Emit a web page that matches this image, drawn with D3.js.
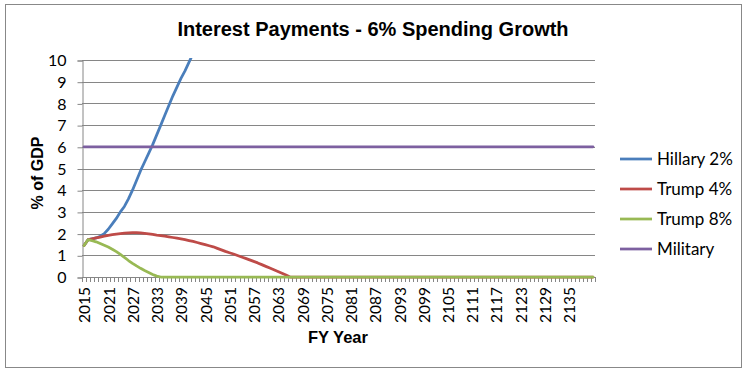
<!DOCTYPE html>
<html>
<head>
<meta charset="utf-8">
<script src="https://cdn.jsdelivr.net/npm/d3@7"></script>
<style>
  body { margin: 0; background: #fff; }
  svg { display: block; }
</style>
</head>
<body>
<div id="chart"></div>
<script>
const years = d3.range(2015, 2142); // FY categories 2015..2141

const yTicks = [0, 1, 2, 3, 4, 5, 6, 7, 8, 9, 10];

const hillary = [
  1.45, 1.72, 1.76, 1.80, 1.88, 2.00, 2.20, 2.45, 2.70, 3.00,
  3.25, 3.60, 4.00, 4.45, 4.90, 5.30, 5.70, 6.10, 6.55, 7.00,
  7.45, 7.90, 8.35, 8.75, 9.15, 9.50, 9.90, 10.30, 10.70
];

const trump4 = [
  1.45, 1.72, 1.76, 1.80, 1.84, 1.88, 1.92, 1.95, 1.98, 2.00,
  2.02, 2.03, 2.04, 2.04, 2.03, 2.01, 1.99, 1.96, 1.93, 1.91,
  1.88, 1.85, 1.82, 1.79, 1.76, 1.72, 1.68, 1.64, 1.59, 1.54,
  1.49, 1.44, 1.39, 1.32, 1.25, 1.18, 1.12, 1.06, 0.99, 0.92,
  0.86, 0.79, 0.72, 0.65, 0.57, 0.49, 0.41, 0.33, 0.25, 0.17,
  0.09, 0,
  0, 0, 0, 0, 0, 0, 0, 0, 0, 0,
  0, 0, 0, 0, 0, 0, 0, 0, 0, 0,
  0, 0, 0, 0, 0, 0, 0, 0, 0, 0,
  0, 0, 0, 0, 0, 0, 0, 0, 0, 0,
  0, 0, 0, 0, 0, 0, 0, 0, 0, 0,
  0, 0, 0, 0, 0, 0, 0, 0, 0, 0,
  0, 0, 0, 0, 0, 0, 0, 0, 0, 0,
  0, 0, 0, 0, 0
];

const trump8 = [
  1.45, 1.72, 1.67, 1.62, 1.54, 1.46, 1.38, 1.28, 1.17, 1.04,
  0.90, 0.76, 0.63, 0.51, 0.40, 0.30, 0.21, 0.12, 0.04,
  0, 0, 0, 0, 0, 0, 0, 0, 0, 0,
  0, 0, 0, 0, 0, 0, 0, 0, 0, 0,
  0, 0, 0, 0, 0, 0, 0, 0, 0, 0,
  0, 0, 0, 0, 0, 0, 0, 0, 0, 0,
  0, 0, 0, 0, 0, 0, 0, 0, 0, 0,
  0, 0, 0, 0, 0, 0, 0, 0, 0, 0,
  0, 0, 0, 0, 0, 0, 0, 0, 0, 0,
  0, 0, 0, 0, 0, 0, 0, 0, 0, 0,
  0, 0, 0, 0, 0, 0, 0, 0, 0, 0,
  0, 0, 0, 0, 0, 0, 0, 0, 0, 0,
  0, 0, 0, 0, 0, 0, 0, 0
];

const military = [
  6, 6, 6, 6, 6, 6, 6, 6, 6, 6,
  6, 6, 6, 6, 6, 6, 6, 6, 6, 6,
  6, 6, 6, 6, 6, 6, 6, 6, 6, 6,
  6, 6, 6, 6, 6, 6, 6, 6, 6, 6,
  6, 6, 6, 6, 6, 6, 6, 6, 6, 6,
  6, 6, 6, 6, 6, 6, 6, 6, 6, 6,
  6, 6, 6, 6, 6, 6, 6, 6, 6, 6,
  6, 6, 6, 6, 6, 6, 6, 6, 6, 6,
  6, 6, 6, 6, 6, 6, 6, 6, 6, 6,
  6, 6, 6, 6, 6, 6, 6, 6, 6, 6,
  6, 6, 6, 6, 6, 6, 6, 6, 6, 6,
  6, 6, 6, 6, 6, 6, 6, 6, 6, 6,
  6, 6, 6, 6, 6, 6, 6
];

const seriesNames = ['Hillary 2%', 'Trump 4%', 'Trump 8%', 'Military'];
const seriesColors = ['#4a7ebb', '#be4b48', '#98b954', '#7d60a0'];
const seriesValues = [hillary, trump4, trump8, military];

const width = 751;
const height = 375;
const plot = { left: 82, right: 595, top: 60, bottom: 277 };

const svg = d3.select('#chart')
  .append('svg')
  .attr('width', width)
  .attr('height', height);

// outer chart border
svg.append('rect')
  .attr('x', 5.5).attr('y', 4.5)
  .attr('width', 736).attr('height', 363)
  .attr('fill', '#fff')
  .attr('stroke', '#888')
  .attr('stroke-width', 1);

const x = d3.scaleBand()
  .domain(years)
  .range([plot.left, plot.right])
  .padding(0);

const y = d3.scaleLinear()
  .domain([0, 10])
  .range([plot.bottom, plot.top]);

// gridlines
svg.append('g')
  .selectAll('line')
  .data(yTicks.filter(d => d > 0))
  .enter()
  .append('line')
  .attr('x1', plot.left)
  .attr('x2', plot.right)
  .attr('y1', d => Math.round(y(d)) + 0.5)
  .attr('y2', d => Math.round(y(d)) + 0.5)
  .attr('stroke', '#868686')
  .attr('stroke-width', 1);

// y axis
const yAxis = svg.append('g')
  .attr('transform', `translate(${plot.left + 0.5},0.5)`)
  .call(d3.axisLeft(y).tickValues(yTicks).tickSize(5).tickPadding(11));
yAxis.select('.domain').attr('stroke', '#868686');
yAxis.selectAll('.tick line').attr('stroke', '#868686');
yAxis.selectAll('.tick text')
  .attr('font-family', 'Lato, "Open Sans", sans-serif')
  .attr('font-size', 16)
  .attr('fill', '#000');

// x axis line and tick marks at category boundaries
const xAxisG = svg.append('g');
xAxisG.append('line')
  .attr('x1', plot.left).attr('x2', plot.right)
  .attr('y1', plot.bottom + 0.5).attr('y2', plot.bottom + 0.5)
  .attr('stroke', '#868686');
const boundaries = years.map(d => x(d)).concat([x(years[years.length - 1]) + x.bandwidth()]);
xAxisG.selectAll('.xtick')
  .data(boundaries)
  .enter()
  .append('line')
  .attr('class', 'xtick')
  .attr('x1', d => Math.round(d) + 0.5)
  .attr('x2', d => Math.round(d) + 0.5)
  .attr('y1', plot.bottom)
  .attr('y2', plot.bottom + 5)
  .attr('stroke', '#868686');

const labelYears = years.filter((d, i) => i % 6 === 0 && d <= 2135);
xAxisG.selectAll('.xlabel')
  .data(labelYears)
  .enter()
  .append('text')
  .attr('class', 'xlabel')
  .attr('transform', d => `translate(${x(d) + x.bandwidth() / 2 + 1},${plot.bottom + 10}) rotate(-90)`)
  .attr('text-anchor', 'end')
  .attr('dy', '0.35em')
  .attr('font-family', 'Lato, "Open Sans", sans-serif')
  .attr('font-size', 15.5)
  .attr('fill', '#000')
  .text(d => d);

// clip lines to plot area
svg.append('clipPath')
  .attr('id', 'plot-clip')
  .append('rect')
  .attr('x', plot.left).attr('y', plot.top - 2)
  .attr('width', plot.right - plot.left + 2)
  .attr('height', plot.bottom - plot.top + 4);

const line = d3.line()
  .x((d, i) => x(years[i]) + x.bandwidth() / 2)
  .y(d => y(d));

svg.append('g')
  .attr('clip-path', 'url(#plot-clip)')
  .selectAll('path')
  .data(seriesValues)
  .enter()
  .append('path')
  .attr('d', d => line(d))
  .attr('fill', 'none')
  .attr('stroke', (d, i) => seriesColors[i])
  .attr('stroke-width', 2.75)
  .attr('stroke-linejoin', 'round')
  .attr('stroke-linecap', 'round');

// title
svg.append('text')
  .attr('x', 373)
  .attr('y', 36)
  .attr('text-anchor', 'middle')
  .attr('font-family', '"Liberation Sans", Arial, sans-serif')
  .attr('font-weight', 'bold')
  .attr('font-size', 20)
  .attr('fill', '#000')
  .text('Interest Payments - 6% Spending Growth');

// axis titles
svg.append('text')
  .attr('transform', 'translate(43,173) rotate(-90)')
  .attr('text-anchor', 'middle')
  .attr('font-family', '"Liberation Sans", Arial, sans-serif')
  .attr('font-weight', 'bold')
  .attr('font-size', 16)
  .attr('fill', '#000')
  .text('% of GDP');

svg.append('text')
  .attr('x', 338)
  .attr('y', 343)
  .attr('text-anchor', 'middle')
  .attr('font-family', '"Liberation Sans", Arial, sans-serif')
  .attr('font-weight', 'bold')
  .attr('font-size', 16.5)
  .attr('fill', '#000')
  .text('FY Year');

// legend
const legend = svg.append('g')
  .selectAll('g')
  .data(seriesNames)
  .enter()
  .append('g')
  .attr('transform', (d, i) => `translate(620,${159 + i * 30})`);

legend.append('line')
  .attr('x1', 0).attr('x2', 32)
  .attr('y1', 0).attr('y2', 0)
  .attr('stroke', (d, i) => seriesColors[i])
  .attr('stroke-width', 2.75);

legend.append('text')
  .attr('x', 37)
  .attr('dy', '0.35em')
  .attr('font-family', 'Lato, "Open Sans", sans-serif')
  .attr('font-size', 17)
  .attr('fill', '#000')
  .text(d => d);
</script>
</body>
</html>
